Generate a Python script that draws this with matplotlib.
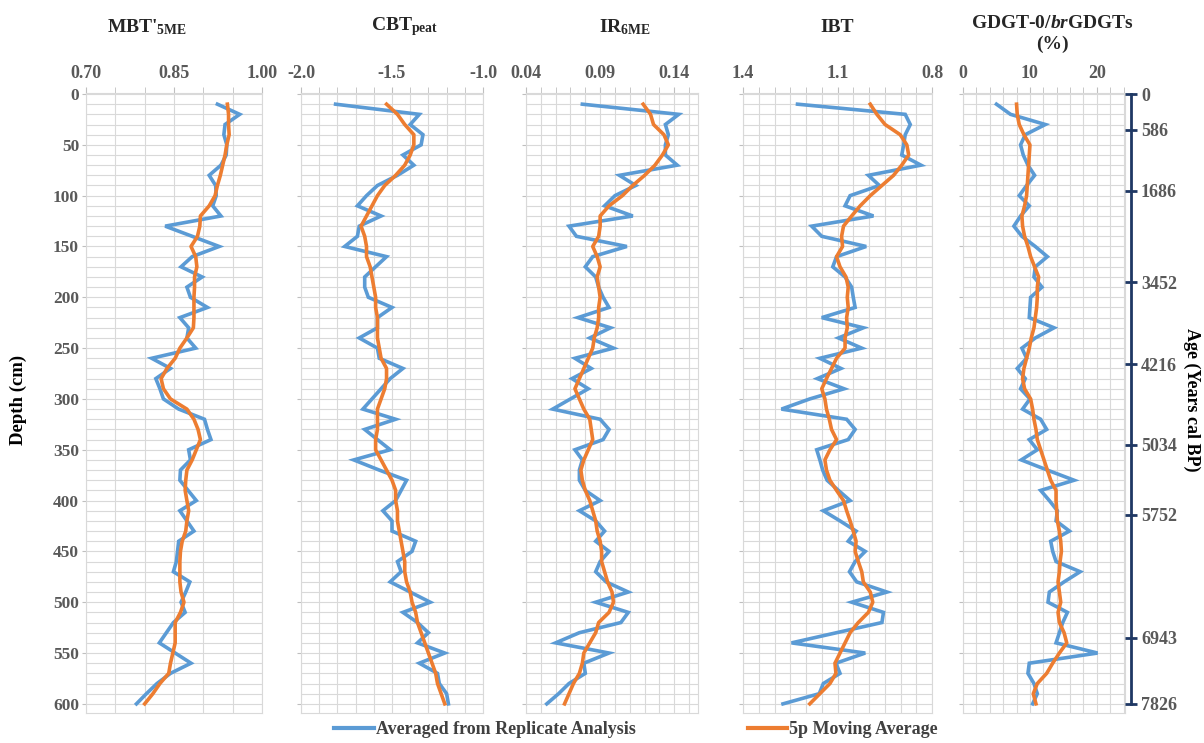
"""
GDGT proxies vs depth, five panels side by side with an age axis on the right
"""

import numpy as np
import matplotlib.pyplot as plt
from matplotlib.lines import Line2D

plt.rcParams['font.family'] = ['Liberation Serif', 'DejaVu Serif']
plt.rcParams['font.weight'] = 'bold'
plt.rcParams['mathtext.fontset'] = 'custom'
plt.rcParams['mathtext.rm'] = 'Liberation Serif:bold'
plt.rcParams['mathtext.it'] = 'Liberation Serif:bold:italic'
plt.rcParams['mathtext.bf'] = 'Liberation Serif:bold'

# sample depths (cm)
depth = np.arange(10, 610, 10)

mbt_raw = [0.924, 0.962, 0.937, 0.935, 0.940, 0.939, 0.930, 0.910, 0.921, 0.922,
           0.916, 0.930, 0.835, 0.881, 0.927, 0.881, 0.862, 0.898, 0.872, 0.878,
           0.907, 0.860, 0.875, 0.872, 0.887, 0.812, 0.844, 0.819, 0.826, 0.832,
           0.858, 0.902, 0.907, 0.913, 0.875, 0.878, 0.861, 0.860, 0.874, 0.888,
           0.860, 0.872, 0.884, 0.858, 0.856, 0.854, 0.849, 0.877, 0.870, 0.862,
           0.869, 0.849, 0.837, 0.825, 0.852, 0.879, 0.844, 0.821, 0.803, 0.786]
mbt_avg = [0.941, 0.943, 0.943, 0.944, 0.940, 0.937, 0.933, 0.929, 0.924, 0.920,
           0.910, 0.895, 0.894, 0.890, 0.879, 0.887, 0.889, 0.885, 0.885, 0.884,
           0.884, 0.884, 0.883, 0.872, 0.860, 0.852, 0.838, 0.828, 0.832, 0.844,
           0.872, 0.884, 0.891, 0.895, 0.888, 0.881, 0.872, 0.870, 0.869, 0.872,
           0.875, 0.872, 0.870, 0.864, 0.861, 0.860, 0.860, 0.860, 0.862, 0.867,
           0.861, 0.852, 0.852, 0.852, 0.848, 0.844, 0.841, 0.826, 0.814, 0.800]

cbt_raw = [-1.81, -1.35, -1.40, -1.33, -1.34, -1.44, -1.38, -1.47, -1.58, -1.64,
           -1.69, -1.56, -1.68, -1.69, -1.76, -1.53, -1.59, -1.65, -1.65, -1.63,
           -1.50, -1.58, -1.58, -1.68, -1.58, -1.57, -1.44, -1.51, -1.56, -1.61,
           -1.66, -1.48, -1.65, -1.58, -1.51, -1.71, -1.57, -1.42, -1.45, -1.48,
           -1.55, -1.50, -1.50, -1.37, -1.39, -1.47, -1.45, -1.51, -1.40, -1.29,
           -1.44, -1.36, -1.30, -1.36, -1.21, -1.35, -1.25, -1.24, -1.20, -1.19]
cbt_avg = [-1.53, -1.47, -1.43, -1.38, -1.38, -1.40, -1.43, -1.48, -1.54, -1.58,
           -1.61, -1.64, -1.67, -1.65, -1.64, -1.64, -1.62, -1.61, -1.60, -1.59,
           -1.59, -1.58, -1.58, -1.58, -1.57, -1.56, -1.53, -1.53, -1.54, -1.56,
           -1.58, -1.58, -1.58, -1.59, -1.59, -1.56, -1.53, -1.50, -1.48, -1.48,
           -1.47, -1.47, -1.46, -1.45, -1.44, -1.43, -1.43, -1.42, -1.40, -1.39,
           -1.37, -1.36, -1.34, -1.32, -1.30, -1.28, -1.26, -1.25, -1.23, -1.21]

ir_raw = [0.078, 0.143, 0.134, 0.136, 0.134, 0.134, 0.142, 0.103, 0.114, 0.100,
          0.093, 0.112, 0.069, 0.074, 0.108, 0.085, 0.080, 0.087, 0.089, 0.092,
          0.096, 0.075, 0.097, 0.083, 0.099, 0.073, 0.084, 0.071, 0.082, 0.070,
          0.058, 0.090, 0.096, 0.092, 0.073, 0.078, 0.076, 0.076, 0.080, 0.090,
          0.076, 0.087, 0.093, 0.087, 0.096, 0.090, 0.087, 0.094, 0.109, 0.087,
          0.109, 0.104, 0.076, 0.060, 0.096, 0.079, 0.080, 0.069, 0.062, 0.054]
ir_avg = [0.119, 0.124, 0.126, 0.133, 0.136, 0.132, 0.127, 0.120, 0.112, 0.105,
          0.096, 0.090, 0.090, 0.089, 0.085, 0.088, 0.090, 0.088, 0.089, 0.090,
          0.089, 0.089, 0.088, 0.086, 0.085, 0.082, 0.079, 0.076, 0.073, 0.076,
          0.079, 0.083, 0.084, 0.085, 0.082, 0.079, 0.077, 0.078, 0.080, 0.083,
          0.085, 0.087, 0.088, 0.090, 0.091, 0.091, 0.093, 0.095, 0.098, 0.099,
          0.096, 0.089, 0.087, 0.083, 0.079, 0.078, 0.076, 0.072, 0.069, 0.066]

ibt_raw = [1.227, 0.885, 0.869, 0.885, 0.890, 0.896, 0.835, 1.002, 0.967, 1.060,
           1.076, 0.986, 1.182, 1.150, 1.009, 1.103, 1.115, 1.076, 1.055, 1.050,
           1.044, 1.150, 1.018, 1.097, 1.023, 1.156, 1.089, 1.164, 1.079, 1.188,
           1.278, 1.071, 1.044, 1.066, 1.166, 1.156, 1.147, 1.133, 1.097, 1.060,
           1.145, 1.092, 1.041, 1.066, 1.012, 1.044, 1.062, 1.039, 0.943, 1.055,
           0.954, 0.959, 1.103, 1.246, 1.012, 1.105, 1.092, 1.145, 1.158, 1.273]
ibt_avg = [0.996, 0.975, 0.949, 0.901, 0.880, 0.874, 0.896, 0.922, 0.959, 0.996,
           1.028, 1.055, 1.081, 1.087, 1.084, 1.103, 1.092, 1.073, 1.066, 1.069,
           1.066, 1.071, 1.069, 1.076, 1.076, 1.103, 1.119, 1.135, 1.150, 1.140,
           1.135, 1.126, 1.119, 1.103, 1.124, 1.140, 1.135, 1.124, 1.103, 1.081,
           1.071, 1.060, 1.050, 1.041, 1.044, 1.034, 1.023, 1.018, 0.996, 0.988,
           1.002, 1.034, 1.060, 1.076, 1.092, 1.108, 1.105, 1.124, 1.156, 1.188]

gdgt_raw = [5.0, 7.1, 12.3, 9.3, 8.6, 9.0, 9.7, 10.7, 9.5, 8.4,
            9.9, 8.6, 7.6, 8.8, 10.8, 12.6, 10.8, 10.6, 11.8, 10.1,
            10.0, 9.9, 13.6, 10.8, 8.8, 9.5, 8.1, 9.3, 8.6, 10.0,
            8.9, 11.6, 12.5, 9.9, 11.1, 8.7, 12.6, 16.6, 11.6, 12.9,
            14.1, 13.9, 15.9, 13.1, 13.4, 13.9, 17.5, 15.1, 12.9, 12.7,
            15.6, 14.9, 14.4, 13.9, 20.1, 9.9, 9.7, 10.6, 11.1, 10.4]
gdgt_avg = [8.0, 8.1, 8.4, 9.1, 10.0, 9.9, 9.8, 9.7, 9.6, 9.5,
            9.2, 8.8, 8.9, 9.2, 9.7, 10.1, 10.7, 11.3, 11.1, 11.1,
            11.0, 10.8, 10.6, 10.2, 9.9, 9.5, 9.1, 8.9, 9.2, 10.1,
            10.4, 10.6, 10.9, 11.1, 11.6, 12.1, 12.6, 13.1, 13.9, 13.9,
            14.0, 14.1, 14.4, 14.6, 14.7, 14.5, 14.4, 14.2, 14.4, 14.6,
            14.2, 14.4, 15.1, 15.5, 14.4, 13.4, 12.5, 11.1, 10.5, 10.9]

# age model: depth of dated levels and their ages
age_depth = [0, 35, 95, 185, 266, 345, 414, 535, 600]
age_label = ['0', '586', '1686', '3452', '4216', '5034', '5752', '6943', '7826']

titles = [r"MBT'$_\mathregular{5ME}$", r"CBT$_\mathregular{peat}$", r"IR$_\mathregular{6ME}$",
          "IBT", "GDGT-0/$\\mathit{br}$GDGTs\n(%)"]

W, H = 1204, 743
BLUE = '#5B9BD5'
ORANGE = '#ED7D31'
GRID = '#d9d9d9'
TXT = '#595959'

panels = [
    # x0, x1 (px), xlim, major ticks, minor step, fmt, raw, avg, title x
    (86, 262, (0.70, 1.00), [0.70, 0.85, 1.00], 0.05, '{:.2f}', mbt_raw, mbt_avg, 147),
    (301, 483, (-2.0, -1.0), [-2.0, -1.5, -1.0], 0.1, '{:.1f}', cbt_raw, cbt_avg, 405),
    (526, 698, (0.04, 0.156), [0.04, 0.09, 0.14], 0.01, '{:.2f}', ir_raw, ir_avg, 625),
    (743, 932, (1.4, 0.8), [1.4, 1.1, 0.8], 0.05, '{:.1f}', ibt_raw, ibt_avg, 837),
    (963, 1125, (0, 24.2), [0, 10, 20], 2, '{:.0f}', gdgt_raw, gdgt_avg, 1052),
]

fig = plt.figure(figsize=(W / 100, H / 100), dpi=100)
top, bot = 93, 713

axes = []
for i, (x0, x1, xl, major, step, fmt, raw, avg, tx) in enumerate(panels):
    ax = fig.add_axes([x0 / W, 1 - bot / H, (x1 - x0) / W, (bot - top) / H])
    ax.plot(raw, depth, color=BLUE, lw=2.6, solid_joinstyle='miter', zorder=3)
    ax.plot(avg, depth, color=ORANGE, lw=2.6, zorder=4)
    ax.set_xlim(*xl)
    ax.set_ylim(609, -1)

    lo, hi = min(xl), max(xl)
    minor = np.round(np.arange(lo, hi + 1e-9, step), 4)
    ax.xaxis.tick_top()
    ax.set_xticks(major)
    ax.set_xticklabels([fmt.format(v) for v in major])
    ax.set_xticks(minor, minor=True)
    ax.tick_params(axis='x', which='both', direction='out', length=4, color='#bfbfbf',
                   top=True, bottom=False, pad=4)
    ax.tick_params(axis='x', which='major', labelsize=13, labelcolor=TXT)

    ax.set_yticks(np.arange(0, 601, 50))
    ax.set_yticks(np.arange(0, 610, 10), minor=True)
    ax.tick_params(axis='y', which='major', direction='out', length=3, color='#bfbfbf',
                   labelsize=12.5, labelcolor=TXT, pad=2)
    ax.tick_params(axis='y', which='minor', length=0)
    if i > 0:
        ax.tick_params(axis='y', labelleft=False)

    ax.grid(True, which='both', color=GRID, lw=0.8, zorder=0)
    ax.set_axisbelow(True)
    for s in ax.spines.values():
        s.set_color(GRID)
        s.set_linewidth(0.8)

    if i < 4:
        fig.text(tx / W, 1 - 27 / H, titles[i], ha='center', va='center', fontsize=14,
                 color='#262626')
    else:
        fig.text(tx / W, 1 - 34 / H, titles[i], ha='center', va='center', fontsize=14,
                 color='#262626', linespacing=1.3)
    axes.append(ax)

# age axis to the right of the last panel
ax_age = axes[-1].twinx()
ax_age.set_ylim(609, -1)
for k in ['left', 'top', 'bottom']:
    ax_age.spines[k].set_visible(False)
ax_age.spines['right'].set_position(('outward', 4))
ax_age.spines['right'].set_bounds(0, 600)
ax_age.spines['right'].set_color('#1f3864')
ax_age.spines['right'].set_linewidth(2)
ax_age.set_yticks(age_depth)
ax_age.set_yticklabels(age_label)
ax_age.tick_params(axis='y', direction='inout', length=9, width=2, color='#1f3864',
                   labelsize=13, labelcolor=TXT, pad=3)

fig.text(18 / W, 1 - 400 / H, 'Depth (cm)', rotation=90, ha='center', va='center',
         fontsize=13.5, color='black')
fig.text(1192 / W, 1 - 400 / H, 'Age (Years cal BP)', rotation=-90, ha='center',
         va='center', fontsize=13, color='black')

handles = [Line2D([], [], color=BLUE, lw=3), Line2D([], [], color=ORANGE, lw=3)]
fig.legend(handles, ['Averaged from Replicate Analysis', '5p Moving Average'],
           loc='center', bbox_to_anchor=(636 / W, 1 - 730 / H), ncol=2, frameon=False,
           fontsize=13, labelcolor='#404040', handlelength=2.2, handletextpad=0.1,
           columnspacing=6.2, borderpad=0)

fig.savefig('out.png', dpi=100)
